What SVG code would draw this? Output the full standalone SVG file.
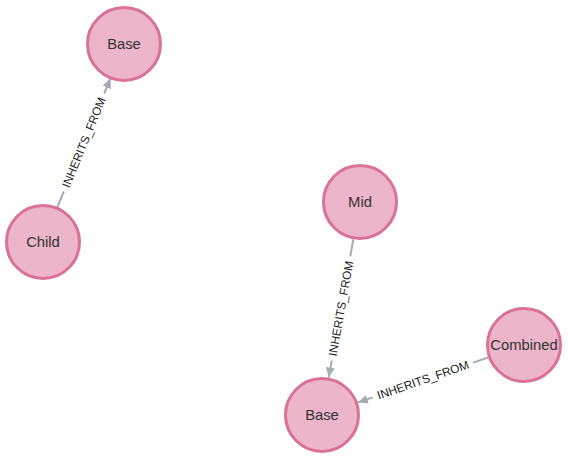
<svg xmlns="http://www.w3.org/2000/svg" width="568" height="459" viewBox="0 0 568 459">
<style>
.node circle{fill:#ECB5C9;stroke:#DA7298;stroke-width:3}
.node text{font-family:"Liberation Sans",Arial,sans-serif;font-size:14.8px;fill:#333;text-anchor:middle;dominant-baseline:central}
.edge line{stroke:#A5ABB6;stroke-width:2}
.edge text{font-family:"Liberation Sans",Arial,sans-serif;font-size:11.8px;fill:#222;text-anchor:middle;dominant-baseline:central}
</style>
<defs>
<marker id="arr" markerUnits="userSpaceOnUse" markerWidth="11" markerHeight="10" refX="10" refY="4.5" orient="auto">
<path d="M0,0 L10,4.5 L0,9 z" fill="#A5ABB6"/>
</marker>
</defs>
<rect width="568" height="459" fill="#fff"/>
<g id="connectors">
<g class="edge" transform="translate(84,142.5) rotate(-67.6)">
<line x1="-69.6" y1="0" x2="-53" y2="0"/>
<line x1="53" y1="0" x2="69.6" y2="0" marker-end="url(#arr)"/>
<text x="0" y="0">INHERITS_FROM</text>
</g>
<g class="edge" transform="translate(341,308.5) rotate(-79.9)">
<line x1="70.2" y1="0" x2="53" y2="0"/>
<line x1="-53" y1="0" x2="-70.2" y2="0" marker-end="url(#arr)"/>
<text x="0" y="0">INHERITS_FROM</text>
</g>
<g class="edge" transform="translate(423,380) rotate(-19.1)">
<line x1="68.9" y1="0" x2="53" y2="0"/>
<line x1="-53" y1="0" x2="-68.9" y2="0" marker-end="url(#arr)"/>
<text x="0" y="0">INHERITS_FROM</text>
</g>
</g>
<g id="node-base1" class="node"><circle cx="124" cy="44" r="36.5"/><text x="124" y="44">Base</text></g>
<g id="node-child" class="node"><circle cx="43" cy="242" r="36.5"/><text x="43" y="242">Child</text></g>
<g id="node-mid" class="node"><circle cx="360" cy="202" r="36.5"/><text x="360" y="202">Mid</text></g>
<g id="node-combined" class="node"><circle cx="524" cy="345" r="36.5"/><text x="524" y="345">Combined</text></g>
<g id="node-base2" class="node"><circle cx="322" cy="415" r="36.5"/><text x="322" y="415">Base</text></g>
</svg>
